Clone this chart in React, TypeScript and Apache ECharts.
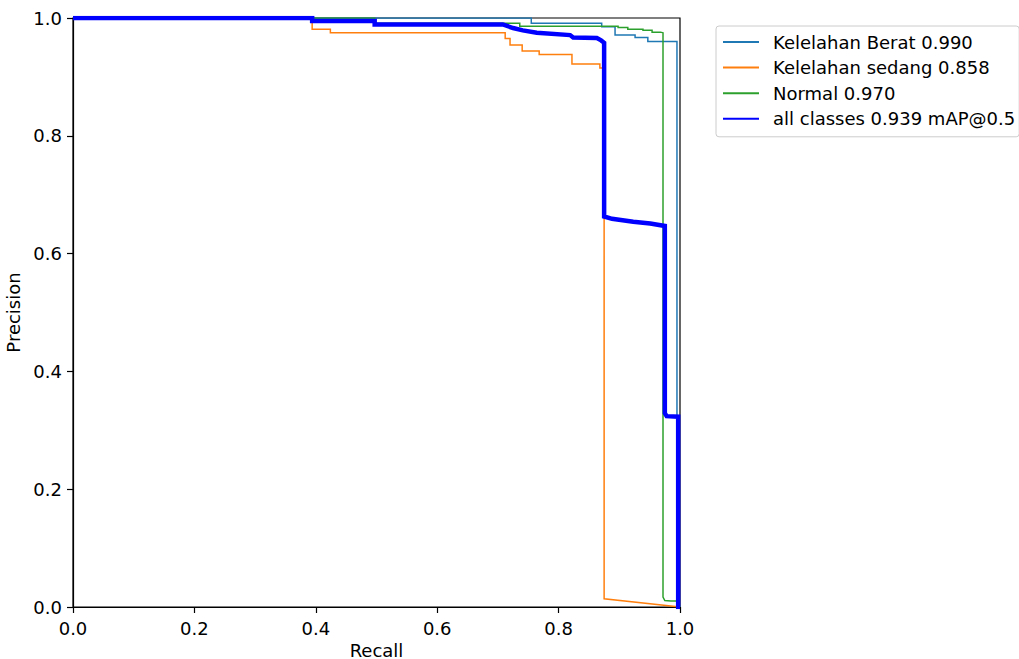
import React, { useEffect, useRef } from "react";
import * as echarts from "echarts";

const seriesNames = [
  "Kelelahan Berat 0.990",
  "Kelelahan sedang 0.858",
  "Normal 0.970",
  "all classes 0.939 mAP@0.5",
];

const recallBerat = [0, 0.755, 0.755, 0.871, 0.871, 0.893, 0.893, 0.926, 0.926, 0.947, 0.947, 0.995, 0.995, 1.0];
const precisionBerat = [1.0, 1.0, 0.991, 0.991, 0.985, 0.985, 0.971, 0.971, 0.967, 0.967, 0.96, 0.96, 0.0, 0.0];

const recallSedang = [0, 0.394, 0.394, 0.424, 0.424, 0.712, 0.712, 0.72, 0.72, 0.74, 0.74, 0.768, 0.768, 0.822, 0.822, 0.868, 0.868, 0.875, 0.875, 1.0];
const precisionSedang = [1.0, 1.0, 0.981, 0.981, 0.975, 0.975, 0.965, 0.965, 0.954, 0.954, 0.944, 0.944, 0.938, 0.938, 0.922, 0.922, 0.915, 0.915, 0.014, 0.0];

const recallNormal = [0, 0.497, 0.497, 0.736, 0.736, 0.898, 0.898, 0.914, 0.914, 0.939, 0.939, 0.954, 0.954, 0.968, 0.968, 0.972, 0.972, 0.975, 0.985, 0.997, 1.0];
const precisionNormal = [1.0, 1.0, 0.991, 0.991, 0.986, 0.986, 0.984, 0.984, 0.981, 0.981, 0.979, 0.979, 0.976, 0.976, 0.975, 0.975, 0.017, 0.011, 0.01, 0.01, 0.0];

const recallAll = [0, 0.394, 0.394, 0.497, 0.497, 0.708, 0.725, 0.741, 0.764, 0.819, 0.824, 0.863, 0.87, 0.875, 0.875, 0.888, 0.923, 0.951, 0.975, 0.975, 0.978, 0.997, 0.997, 1.0];
const precisionAll = [1.0, 1.0, 0.995, 0.995, 0.989, 0.989, 0.983, 0.979, 0.975, 0.971, 0.967, 0.966, 0.962, 0.958, 0.663, 0.659, 0.654, 0.651, 0.647, 0.329, 0.324, 0.323, 0.0, 0.0];

const colors = ["#1f77b4", "#ff7f0e", "#2ca02c", "#0000ff"];
const widths = [1.5, 1.5, 1.5, 4.5];

const zip = (xs: number[], ys: number[]) => xs.map((x, i) => [x, ys[i]]);

export default function App() {
  const ref = useRef<HTMLDivElement>(null);
  useEffect(() => {
    document.body.style.margin = "0";
    const chart = echarts.init(ref.current!, null, { renderer: "svg" });
    const font = "DejaVu Sans";
    const datasets = [
      zip(recallBerat, precisionBerat),
      zip(recallSedang, precisionSedang),
      zip(recallNormal, precisionNormal),
      zip(recallAll, precisionAll),
    ];
    const axisCommon = {
      type: "value" as const,
      min: 0,
      max: 1,
      interval: 0.2,
      nameLocation: "middle" as const,
      nameTextStyle: { fontFamily: font, fontSize: 18, color: "#000" },
      axisLine: { show: true, lineStyle: { color: "#000", width: 1.2 } },
      axisTick: { show: true, length: 6, lineStyle: { color: "#000", width: 1.2 } },
      axisLabel: {
        fontFamily: font,
        fontSize: 18,
        color: "#000",
        formatter: (v: number) => v.toFixed(1),
      },
      splitLine: { show: false },
    };
    chart.setOption({
      animation: false,
      backgroundColor: "#fff",
      grid: {
        left: 73,
        top: 18,
        width: 607,
        height: 589,
        containLabel: false,
        outerBoundsMode: "none",
        show: true,
        borderColor: "#000",
        borderWidth: 1.2,
        backgroundColor: "transparent",
      },
      xAxis: {
        ...axisCommon,
        name: "Recall",
        nameGap: 30,
        axisLabel: { ...axisCommon.axisLabel, margin: 12 },
      },
      yAxis: {
        ...axisCommon,
        name: "Precision",
        nameGap: 44,
        axisLabel: { ...axisCommon.axisLabel, margin: 11 },
      },
      legend: {
        orient: "vertical",
        left: 716,
        top: 26,
        itemWidth: 36,
        itemHeight: 14,
        itemGap: 7.6,
        padding: [7, 4, 9, 6],
        backgroundColor: "#fff",
        borderColor: "#cccccc",
        borderWidth: 1,
        borderRadius: 3,
        itemStyle: { opacity: 0 },
        textStyle: { fontFamily: font, fontSize: 18, color: "#000", padding: [0, 0, 0, 9] },
        data: seriesNames,
      },
      series: datasets.map((d, i) => ({
        name: seriesNames[i],
        type: "line",
        data: d,
        symbol: "none",
        showSymbol: false,
        z: 2 + i,
        lineStyle: { color: colors[i], width: widths[i], join: "miter" },
        itemStyle: { color: colors[i] },
      })),
    });
    return () => chart.dispose();
  }, []);
  return <div ref={ref} style={{ width: 1019, height: 659 }} />;
}
